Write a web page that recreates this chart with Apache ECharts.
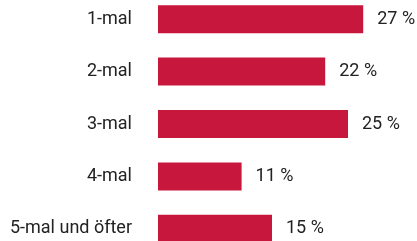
<!DOCTYPE html>
<html><head><meta charset="utf-8">
<script src="https://cdn.jsdelivr.net/npm/echarts@6/dist/echarts.min.js"></script>
<style>html,body{margin:0;padding:0;background:#fff}#c{width:417px;height:241px}</style>
</head><body><div id="c"></div>
<script>
const categories = ["1-mal", "2-mal", "3-mal", "4-mal", "5-mal und öfter"];
const values = [27, 22, 25, 11, 15];
const chart = echarts.init(document.getElementById('c'));
chart.setOption({
  animation: false,
  grid: { left: 158, right: 31, top: -7, bottom: -14, containLabel: false, outerBoundsMode: 'none' },
  xAxis: { type: 'value', min: 0, max: 30, show: false },
  yAxis: {
    type: 'category', data: categories, inverse: true,
    axisLine: { show: false }, axisTick: { show: false },
    axisLabel: { margin: 26, color: '#222', fontFamily: 'Roboto', fontSize: 18 }
  },
  series: [{
    type: 'bar', data: values, barWidth: 28,
    itemStyle: { color: '#c8173c' },
    label: { show: true, position: 'right', distance: 14, color: '#222', fontFamily: 'Roboto', fontSize: 18, formatter: p => p.value + ' %' }
  }]
});
</script></body></html>
